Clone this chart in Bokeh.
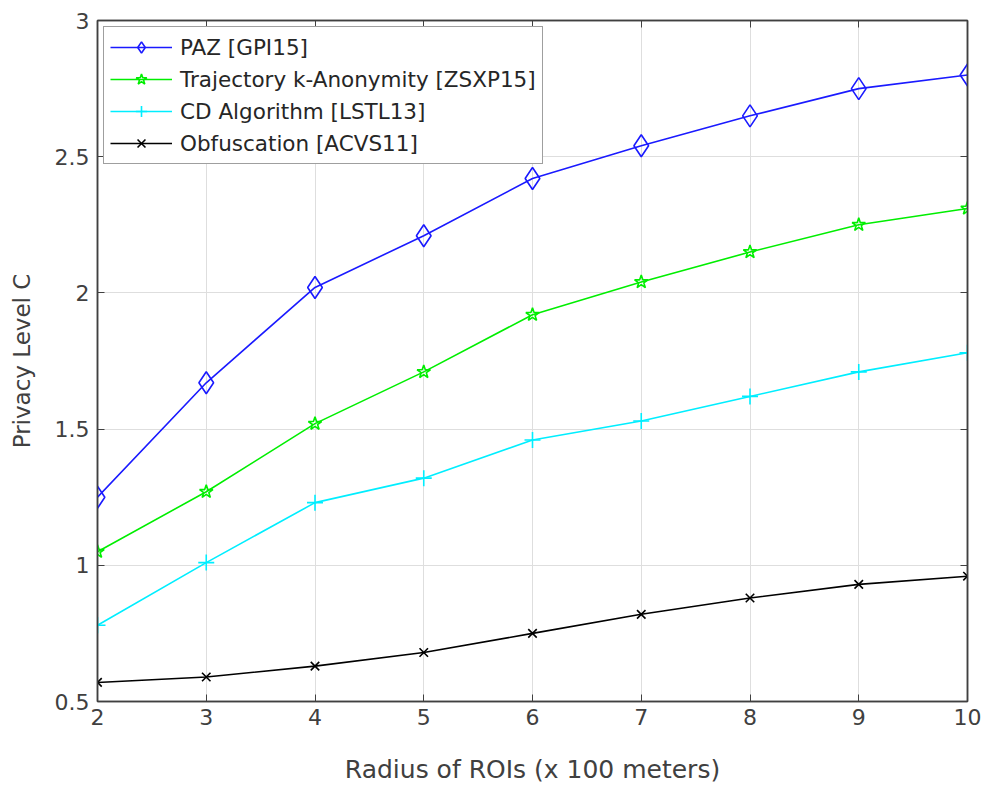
from bokeh.plotting import figure
from bokeh.models import LinearAxis, Range1d, Legend, LegendItem, FixedTicker
from bokeh.embed import file_html
from bokeh.resources import INLINE

x = [2, 3, 4, 5, 6, 7, 8, 9, 10]
paz = [1.25, 1.67, 2.02, 2.21, 2.42, 2.54, 2.65, 2.75, 2.80]
traj = [1.05, 1.27, 1.52, 1.71, 1.92, 2.04, 2.15, 2.25, 2.31]
cd = [0.78, 1.01, 1.23, 1.32, 1.46, 1.53, 1.62, 1.71, 1.78]
obf = [0.57, 0.59, 0.63, 0.68, 0.75, 0.82, 0.88, 0.93, 0.96]
names = ["PAZ [GPI15]", "Trajectory k-Anonymity [ZSXP15]", "CD Algorithm [LSTL13]", "Obfuscation [ACVS11]"]
x_ticks = [2, 3, 4, 5, 6, 7, 8, 9, 10]
y_ticks = [0.5, 1, 1.5, 2, 2.5, 3]

FONT = "DejaVu Sans"
AX = "#404040"

p = figure(width=986, height=791, output_backend="svg", toolbar_location=None,
           x_range=Range1d(2, 10), y_range=Range1d(0.5, 3),
           min_border_left=97, min_border_right=19, min_border_top=20, min_border_bottom=90)
p.outline_line_color = AX
p.outline_line_width = 1.5

for ax in (p.xaxis[0], p.yaxis[0]):
    ax.major_tick_in = 7
    ax.major_tick_out = 0
    ax.minor_tick_line_color = None
    ax.axis_line_color = AX
    ax.axis_line_width = 1.5
    ax.major_tick_line_color = AX
    ax.major_label_text_font = FONT
    ax.major_label_text_font_size = "22px"
    ax.major_label_text_color = AX
    ax.axis_label_text_font = FONT
    ax.axis_label_text_font_style = "normal"
    ax.axis_label_text_color = AX

p.xaxis.ticker = FixedTicker(ticks=x_ticks)
p.yaxis.ticker = FixedTicker(ticks=y_ticks)
p.yaxis.major_label_overrides = {0.5: "0.5", 1: "1", 1.5: "1.5", 2: "2", 2.5: "2.5", 3: "3"}
p.xaxis.axis_label = "Radius of ROIs (x 100 meters)"
p.yaxis.axis_label = "Privacy Level C"
p.xaxis.axis_label_text_font_size = "25px"
p.yaxis.axis_label_text_font_size = "23px"
p.xaxis.major_label_standoff = 7
p.yaxis.major_label_standoff = 8
p.xaxis.axis_label_standoff = 27
p.yaxis.axis_label_standoff = 17

for loc, tick in (("right", y_ticks), ("above", x_ticks)):
    a = LinearAxis(ticker=FixedTicker(ticks=tick), major_tick_in=7, major_tick_out=0,
                   minor_tick_line_color=None, major_label_text_font_size="0px",
                   major_label_text_color=None, axis_line_color=AX, axis_line_width=1.5,
                   major_tick_line_color=AX)
    p.add_layout(a, loc)

p.grid.grid_line_color = "#dedede"
p.xgrid.ticker = FixedTicker(ticks=x_ticks)
p.ygrid.ticker = FixedTicker(ticks=y_ticks)

items = []
l1 = p.line(x, paz, line_color="#1a1aff", line_width=1.6)
m1 = p.scatter(x, paz, marker="diamond", size=22, line_color="#1a1aff", fill_color=None, line_width=1.6)
items.append(LegendItem(label=names[0], renderers=[l1, m1]))
l2 = p.line(x, traj, line_color="#00ee00", line_width=1.6)
m2 = p.scatter(x, traj, marker="star", size=14, line_color="#00ee00", fill_color=None, line_width=1.6)
items.append(LegendItem(label=names[1], renderers=[l2, m2]))
l3 = p.line(x, cd, line_color="#00eeff", line_width=1.6)
m3 = p.scatter(x, cd, marker="cross", size=16, line_color="#00eeff", fill_color=None, line_width=1.6)
items.append(LegendItem(label=names[2], renderers=[l3, m3]))
l4 = p.line(x, obf, line_color="#000000", line_width=1.6)
m4 = p.scatter(x, obf, marker="x", size=12, line_color="#000000", fill_color=None, line_width=1.6)
items.append(LegendItem(label=names[3], renderers=[l4, m4]))

leg = Legend(items=items, location="top_left", margin=6, padding=6, spacing=4,
             glyph_width=62, glyph_height=28, label_height=28, label_standoff=8,
             label_text_font=FONT, label_text_font_size="21.5px", label_text_color="#262626",
             border_line_color=AX, border_line_width=1.5, background_fill_alpha=1.0)
p.add_layout(leg)

open("out.html", "w").write(file_html(p, INLINE))
